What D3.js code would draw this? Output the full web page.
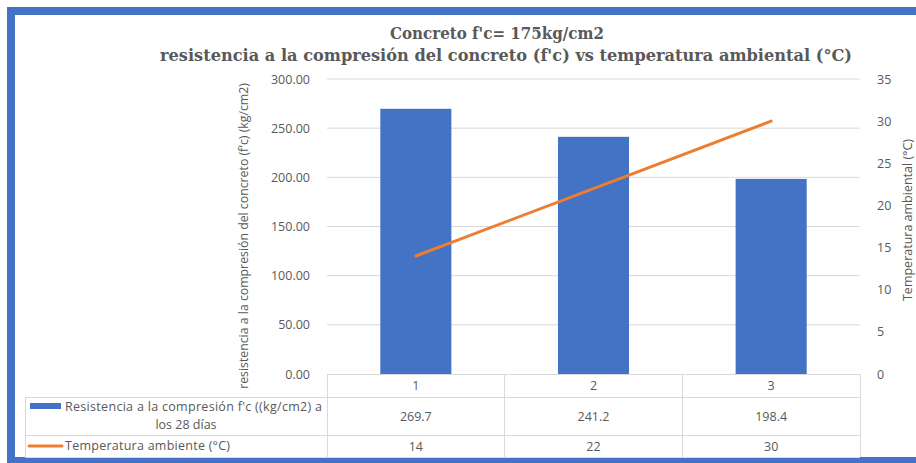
<!DOCTYPE html>
<html>
<head>
<meta charset="utf-8">
<script src="https://cdn.jsdelivr.net/npm/d3@7"></script>
<style>
  body { margin: 0; background: #fff; }
  svg { display: block; }
  .tick text, .cell { font-family: 'Open Sans', sans-serif; fill: #595959; }
</style>
</head>
<body>
<svg id="chart" width="916" height="463"></svg>
<script>
const categories = ['1', '2', '3']
const resistencia = [269.7, 241.2, 198.4]
const temperatura = [14, 22, 30]
const leftTicks = [0, 50, 100, 150, 200, 250, 300]
const rightTicks = [0, 5, 10, 15, 20, 25, 30, 35]
const titleLines = ["Concreto f'c= 175kg/cm2", "resistencia a la compresión del concreto (f'c) vs temperatura ambiental (°C)"]
const seriesNames = [["Resistencia a la compresión f'c ((kg/cm2) a", 'los 28 días'], ['Temperatura ambiente (°C)']]

const svg = d3.select('#chart')
const plot = { left: 327, right: 860, top: 79, bottom: 374 }
const grey = '#595959'
const lineGrey = '#d9d9d9'

// frame
svg.append('rect')
  .attr('x', 11).attr('y', 11)
  .attr('width', 930).attr('height', 450)
  .attr('fill', 'none')
  .attr('stroke', '#4472c4')
  .attr('stroke-width', 8)

let x = d3.scaleBand()
  .domain(categories)
  .range([plot.left, plot.right])
  .paddingInner(0.6)
  .paddingOuter(0.3)
let yL = d3.scaleLinear().domain([0, 300]).range([plot.bottom, plot.top])
let yR = d3.scaleLinear().domain([0, 35]).range([plot.bottom, plot.top])

// gridlines
svg.append('g')
  .selectAll('line')
  .data(leftTicks.slice(1))
  .join('line')
  .attr('x1', plot.left).attr('x2', plot.right)
  .attr('y1', d => yL(d)).attr('y2', d => yL(d))
  .attr('stroke', lineGrey)

// axes (labels only)
let axL = svg.append('g')
  .attr('transform', 'translate(' + (plot.left - 14) + ',0)')
  .call(d3.axisLeft(yL).tickValues(leftTicks).tickFormat(d3.format('.2f')).tickSize(0))
let axR = svg.append('g')
  .attr('transform', 'translate(' + (plot.right + 14) + ',0)')
  .call(d3.axisRight(yR).tickValues(rightTicks).tickSize(0))
;[axL, axR].forEach(function(ax) {
  ax.select('.domain').remove()
  ax.selectAll('text').attr('font-size', 12.5).attr('font-family', null)
})

// bars
svg.append('g')
  .selectAll('rect')
  .data(resistencia)
  .join('rect')
  .attr('x', (d, i) => x(categories[i]))
  .attr('width', x.bandwidth())
  .attr('y', d => yL(d))
  .attr('height', d => yL(0) - yL(d))
  .attr('fill', '#4472c4')

// line
let line = d3.line()
  .x((d, i) => x(categories[i]) + x.bandwidth() / 2)
  .y(d => yR(d))
svg.append('path')
  .datum(temperatura)
  .attr('d', line)
  .attr('fill', 'none')
  .attr('stroke', '#ed7d31')
  .attr('stroke-width', 3)
  .attr('stroke-linecap', 'round')

// titles (stretched to match the wide serif of the original)
let titleWidths = [214, 692]
svg.append('g')
  .selectAll('text')
  .data(titleLines)
  .join('text')
  .attr('x', (d, i) => i ? 506 : 497)
  .attr('y', (d, i) => i ? 61 : 39)
  .attr('text-anchor', 'middle')
  .attr('font-family', "'DejaVu Serif', serif")
  .attr('font-weight', 'bold')
  .attr('font-size', 16.5)
  .attr('textLength', (d, i) => titleWidths[i])
  .attr('lengthAdjust', 'spacingAndGlyphs')
  .attr('fill', grey)
  .text(d => d)

svg.append('text')
  .attr('transform', 'translate(248,236) rotate(-90)')
  .attr('text-anchor', 'middle')
  .attr('class', 'cell')
  .attr('font-size', 12.3)
  .text('resistencia a la compresión del concreto (f\'c) (kg/cm2)')
svg.append('text')
  .attr('transform', 'translate(912,220) rotate(-90)')
  .attr('text-anchor', 'middle')
  .attr('class', 'cell')
  .attr('font-size', 12.5)
  .text('Temperatura ambiental (°C)')

// data table
let rows = [plot.bottom, 397, 435, 457]
let tableLeft = 25
let colEdges = [plot.left].concat(categories.map(c => x(c) + x.bandwidth() / 2 + x.step() / 2))
let table = svg.append('g').attr('stroke', lineGrey).attr('shape-rendering', 'crispEdges')
table.append('line').attr('x1', plot.left).attr('x2', plot.right).attr('y1', rows[0]).attr('y2', rows[0])
rows.slice(1).forEach(function(r) {
  table.append('line').attr('x1', tableLeft).attr('x2', plot.right).attr('y1', r).attr('y2', r)
})
table.append('line').attr('x1', tableLeft).attr('x2', tableLeft).attr('y1', rows[1]).attr('y2', rows[3])
colEdges.forEach(function(c) {
  table.append('line').attr('x1', c).attr('x2', c).attr('y1', rows[0]).attr('y2', rows[3])
})

let cellText = function(tx, ty, t, anchor) {
  return svg.append('text')
    .attr('class', 'cell')
    .attr('x', tx).attr('y', ty)
    .attr('text-anchor', anchor || 'middle')
    .attr('dominant-baseline', 'central')
    .attr('font-size', 12.5)
    .text(t)
}
categories.forEach(function(c, i) {
  let cx = x(c) + x.bandwidth() / 2
  cellText(cx, (rows[0] + rows[1]) / 2, c)
  cellText(cx, (rows[1] + rows[2]) / 2, d3.format('.1f')(resistencia[i]))
  cellText(cx, (rows[2] + rows[3]) / 2, temperatura[i])
})

// legend keys + series names
svg.append('rect')
  .attr('x', 30).attr('y', 403)
  .attr('width', 31).attr('height', 6)
  .attr('fill', '#4472c4')
cellText(65, 406, seriesNames[0][0], 'start')
  .attr('textLength', 257)
  .attr('lengthAdjust', 'spacing')
cellText(186, 424, seriesNames[0][1])
svg.append('line')
  .attr('x1', 29).attr('x2', 62)
  .attr('y1', 446).attr('y2', 446)
  .attr('stroke', '#ed7d31')
  .attr('stroke-width', 3)
  .attr('stroke-linecap', 'round')
cellText(65, 445, seriesNames[1][0], 'start')
  .attr('textLength', 165)
  .attr('lengthAdjust', 'spacing')
</script>
</body>
</html>
